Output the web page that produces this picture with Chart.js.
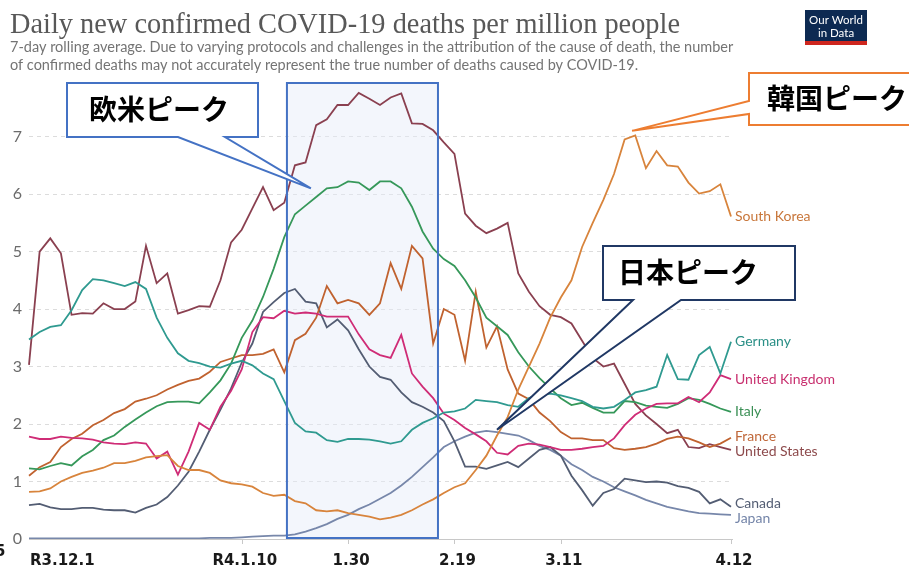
<!DOCTYPE html>
<html><head><meta charset="utf-8">
<script src="https://cdn.jsdelivr.net/npm/chart.js@4.4.1/dist/chart.umd.min.js"></script>
<style>html,body{margin:0;padding:0;background:#fff;overflow:hidden}canvas{display:block}</style>
</head><body>
<canvas id="c" width="909" height="570"></canvas>
<script>
// ---------------- DATA ----------------
const categories = [
 "2021-12-01","2021-12-03","2021-12-05","2021-12-07","2021-12-09","2021-12-11","2021-12-13","2021-12-15","2021-12-17","2021-12-19",
 "2021-12-21","2021-12-23","2021-12-25","2021-12-27","2021-12-29","2021-12-31","2022-01-02","2022-01-04","2022-01-06","2022-01-08",
 "2022-01-10","2022-01-12","2022-01-14","2022-01-16","2022-01-18","2022-01-20","2022-01-22","2022-01-24","2022-01-26","2022-01-28",
 "2022-01-30","2022-02-01","2022-02-03","2022-02-05","2022-02-07","2022-02-09","2022-02-11","2022-02-13","2022-02-15","2022-02-17",
 "2022-02-19","2022-02-21","2022-02-23","2022-02-25","2022-02-27","2022-03-01","2022-03-03","2022-03-05","2022-03-07","2022-03-09",
 "2022-03-11","2022-03-13","2022-03-15","2022-03-17","2022-03-19","2022-03-21","2022-03-23","2022-03-25","2022-03-27","2022-03-29",
 "2022-03-31","2022-04-02","2022-04-04","2022-04-06","2022-04-08","2022-04-10","2022-04-12"];

const southKorea = [0.82,0.83,0.88,1.0,1.08,1.15,1.19,1.24,1.32,1.32,
 1.36,1.42,1.44,1.46,1.27,1.2,1.2,1.15,1.02,0.97,
 0.95,0.91,0.8,0.75,0.77,0.66,0.62,0.5,0.48,0.5,
 0.45,0.42,0.39,0.34,0.37,0.42,0.5,0.6,0.69,0.8,
 0.9,0.97,1.2,1.45,1.8,2.12,2.6,3.0,3.4,3.85,
 4.2,4.5,5.08,5.5,5.9,6.35,6.95,7.02,6.45,6.75,
 6.5,6.48,6.2,6.01,6.05,6.17,5.61];
const germany = [3.47,3.6,3.69,3.72,3.98,4.33,4.52,4.5,4.45,4.4,
 4.47,4.35,3.85,3.5,3.23,3.1,3.06,3.0,2.98,3.05,
 3.1,3.02,2.88,2.78,2.4,2.02,1.87,1.85,1.72,1.69,
 1.74,1.74,1.73,1.7,1.66,1.7,1.9,2.02,2.1,2.2,
 2.22,2.27,2.42,2.4,2.38,2.33,2.3,2.45,2.52,2.53,
 2.5,2.45,2.4,2.3,2.27,2.3,2.42,2.55,2.59,2.65,
 3.2,2.78,2.77,3.2,3.34,2.88,3.43];
const unitedKingdom = [1.78,1.74,1.74,1.78,1.76,1.75,1.73,1.68,1.66,1.65,
 1.68,1.66,1.4,1.52,1.12,1.52,2.02,1.9,2.3,2.58,
 2.95,3.6,3.86,3.84,3.97,3.92,3.94,3.92,3.87,3.87,
 3.87,3.56,3.3,3.2,3.15,3.55,2.88,2.65,2.45,2.18,
 2.07,1.93,1.82,1.7,1.5,1.47,1.62,1.66,1.64,1.6,
 1.55,1.55,1.57,1.6,1.62,1.75,1.98,2.16,2.27,2.35,
 2.36,2.36,2.47,2.38,2.55,2.85,2.78];
const italy = [1.23,1.21,1.27,1.32,1.28,1.44,1.55,1.72,1.8,1.95,
 2.08,2.2,2.31,2.38,2.39,2.39,2.36,2.55,2.76,3.05,
 3.5,3.8,4.21,4.7,5.25,5.65,5.8,5.95,6.1,6.12,
 6.22,6.2,6.07,6.22,6.22,6.1,5.78,5.35,5.05,4.87,
 4.75,4.5,4.2,3.85,3.7,3.55,3.25,3.0,2.8,2.62,
 2.45,2.33,2.37,2.28,2.2,2.2,2.4,2.38,2.32,2.3,
 2.28,2.35,2.45,2.42,2.35,2.27,2.21];
const france = [1.1,1.25,1.34,1.6,1.74,1.83,1.98,2.07,2.19,2.26,
 2.39,2.44,2.5,2.6,2.68,2.75,2.79,2.91,3.08,3.14,
 3.2,3.2,3.22,3.3,2.9,3.46,3.57,3.85,4.4,4.1,
 4.16,4.1,3.9,4.1,4.8,4.35,5.1,4.88,3.4,4.0,
 3.9,3.1,4.3,3.33,3.7,2.95,2.53,2.43,2.2,2.05,
 1.86,1.75,1.75,1.72,1.72,1.58,1.55,1.57,1.6,1.66,
 1.74,1.78,1.75,1.68,1.6,1.66,1.76];
const unitedStates = [3.03,5.0,5.23,4.97,3.9,3.93,3.92,4.1,4.0,4.0,
 4.13,5.1,4.45,4.62,3.92,3.98,4.05,4.04,4.5,5.16,
 5.38,5.75,6.12,5.72,5.85,6.5,6.55,7.2,7.3,7.55,
 7.55,7.76,7.66,7.55,7.68,7.75,7.23,7.22,7.11,6.9,
 6.7,5.66,5.45,5.32,5.4,5.5,4.62,4.3,4.05,3.9,
 3.86,3.75,3.45,3.15,3.0,3.05,2.7,2.35,2.15,2.0,
 1.84,1.9,1.6,1.58,1.65,1.6,1.55];
const canada = [0.59,0.61,0.55,0.52,0.52,0.54,0.54,0.51,0.5,0.5,
 0.46,0.54,0.6,0.73,0.93,1.17,1.52,1.9,2.25,2.62,
 3.07,3.4,3.95,4.12,4.28,4.35,4.13,4.1,3.68,3.82,
 3.63,3.3,3.0,2.82,2.77,2.55,2.38,2.3,2.2,2.05,
 1.7,1.26,1.26,1.22,1.28,1.34,1.25,1.4,1.55,1.6,
 1.45,1.1,0.85,0.58,0.8,0.87,1.05,1.02,0.99,1.0,
 0.98,0.92,0.89,0.82,0.62,0.69,0.56];
const japan = [0.01,0.01,0.01,0.01,0.01,0.01,0.01,0.01,0.01,0.01,
 0.01,0.01,0.01,0.01,0.01,0.01,0.01,0.02,0.02,0.02,
 0.03,0.04,0.05,0.06,0.06,0.08,0.13,0.19,0.26,0.35,
 0.42,0.52,0.6,0.7,0.8,0.93,1.08,1.25,1.42,1.6,
 1.7,1.78,1.85,1.88,1.86,1.83,1.8,1.72,1.62,1.55,
 1.45,1.3,1.2,1.08,1.0,0.9,0.83,0.76,0.68,0.62,
 0.56,0.52,0.48,0.45,0.44,0.43,0.42];

const seriesNames = ["South Korea","Germany","United Kingdom","Italy","France","United States","Canada","Japan"];
const seriesValues = [southKorea, germany, unitedKingdom, italy, france, unitedStates, canada, japan];
const yTickValues = [0,1,2,3,4,5,6,7];
const axisTickDates = ["2022-01-10","2022-01-30","2022-02-19","2022-03-11","2022-04-12"];
const xTickLabels = ["R3.12.1","R4.1.10","1.30","2.19","3.11","4.12"];
const xTickLabelDates = ["2021-12-01","2022-01-10","2022-01-30","2022-02-19","2022-03-11","2022-04-12"];
const titleText = "Daily new confirmed COVID-19 deaths per million people";
const subtitleLines = ["7-day rolling average. Due to varying protocols and challenges in the attribution of the cause of death, the number",
 "of confirmed deaths may not accurately represent the true number of deaths caused by COVID-19."];
const calloutTexts = ["欧米ピーク","韓国ピーク","日本ピーク"];

// ---------------- STYLE ----------------
const lineColors = ["#d8843c","#2f9a90","#cf2c76","#36985a","#c0622f","#8a4050","#535d73","#7787aa"];
const labelColors = ["#c8763a","#2a8f86","#c8306f","#3a8f55","#c0683a","#8d4a4c","#535d73","#7384a8"];

const idx = d => categories.indexOf(d);

const overlay = {
  id: 'overlay',
  beforeDatasetsDraw(chart) {
    const {ctx, chartArea, scales:{x, y}} = chart;
    const x0 = x.getPixelForValue(24.25), x1 = x.getPixelForValue(38.45);
    ctx.save();
    ctx.fillStyle = 'rgba(228,236,248,0.45)';
    ctx.fillRect(x0, chartArea.top + 1, x1 - x0, y.getPixelForValue(0) - chartArea.top - 2);
    ctx.restore();
  },
  afterDatasetsDraw(chart) {
    const {ctx, chartArea, scales:{x, y}} = chart;
    const y0 = y.getPixelForValue(0);
    ctx.save();
    ctx.strokeStyle = '#c8c8c8'; ctx.lineWidth = 1;
    ctx.beginPath(); ctx.moveTo(chartArea.left, y0 + 0.5); ctx.lineTo(chartArea.right + 2, y0 + 0.5); ctx.stroke();
    axisTickDates.forEach(d => {
      const px = Math.round(x.getPixelForValue(idx(d))) + 0.5;
      ctx.beginPath(); ctx.moveTo(px, y0); ctx.lineTo(px, y0 + 6); ctx.stroke();
    });
    const x0 = x.getPixelForValue(24.25), x1 = x.getPixelForValue(38.45);
    ctx.strokeStyle = '#4472c4'; ctx.lineWidth = 2;
    ctx.strokeRect(x0, chartArea.top + 1, x1 - x0, y0 - chartArea.top - 2);
    ctx.restore();
  },
  afterDraw(chart) {
    const {ctx, chartArea, scales:{x, y}} = chart;
    ctx.save();
    ctx.textBaseline = 'alphabetic'; ctx.textAlign = 'left';
    ctx.fillStyle = '#585858';
    ctx.font = '29px "Liberation Serif"';
    ctx.fillText(titleText, 10, 33, 670);
    ctx.fillStyle = '#747474';
    ctx.font = '14.5px Lato';
    ctx.fillText(subtitleLines[0], 10, 52, 758);
    ctx.fillText(subtitleLines[1], 10, 70, 657);
    ctx.fillStyle = '#0d2a52'; ctx.fillRect(805, 10, 62, 34);
    ctx.fillStyle = '#ce261e'; ctx.fillRect(805, 41, 62, 4);
    ctx.fillStyle = '#ffffff'; ctx.textAlign = 'center'; ctx.textBaseline = 'middle';
    ctx.font = '11.5px Lato';
    ctx.fillText('Our World', 836, 20);
    ctx.fillText('in Data', 836, 33);

    const labs = seriesNames.map((n, i) => ({n, i, y: y.getPixelForValue(seriesValues[i][seriesValues[i].length - 1])}));
    for (let it = 0; it < 40; it++) {
      labs.sort((a, b) => a.y - b.y);
      for (let j = 1; j < labs.length; j++) {
        const gap = labs[j].y - labs[j-1].y;
        if (gap < 15.5) { const m = (15.5 - gap) / 2; labs[j].y += m; labs[j-1].y -= m; }
      }
    }
    ctx.textAlign = 'left'; ctx.textBaseline = 'middle'; ctx.font = '14px Lato';
    labs.forEach(l => { ctx.fillStyle = labelColors[l.i]; ctx.fillText(l.n, chartArea.right + 4, l.y); });

    ctx.fillStyle = '#ffffff'; ctx.fillRect(0, 544, 909, 26);
    ctx.fillStyle = '#1a1a1a'; ctx.font = 'bold 15px "DejaVu Sans"'; ctx.textBaseline = 'middle';
    xTickLabels.forEach((t, k) => {
      const px = x.getPixelForValue(idx(xTickLabelDates[k]));
      if (k === 0) { ctx.textAlign = 'left'; ctx.fillText(t, px + 1, 561); }
      else { ctx.textAlign = 'center'; ctx.fillText(t, px + 3, 561); }
    });
    ctx.textAlign = 'left';
    ctx.fillText('5', -5, 552);

    const jp = 'bold 28px "Noto Sans CJK JP"';
    function bottomCallout(L, T, R, B, bx1, bx2, tip, color, text, tx) {
      ctx.beginPath();
      ctx.moveTo(L, T); ctx.lineTo(R, T); ctx.lineTo(R, B); ctx.lineTo(bx2, B);
      ctx.lineTo(tip[0], tip[1]); ctx.lineTo(bx1, B); ctx.lineTo(L, B); ctx.closePath();
      ctx.fillStyle = '#fff'; ctx.fill();
      ctx.strokeStyle = color; ctx.lineWidth = 2; ctx.lineJoin = 'miter'; ctx.stroke();
      ctx.fillStyle = '#000'; ctx.font = jp; ctx.textAlign = 'left'; ctx.textBaseline = 'middle';
      ctx.fillText(text, tx, (T + B) / 2 - 1);
    }
    function leftCallout(L, T, R, B, by1, by2, tip, color, text, tx) {
      ctx.beginPath();
      ctx.moveTo(L, T); ctx.lineTo(R, T); ctx.lineTo(R, B); ctx.lineTo(L, B);
      ctx.lineTo(L, by2); ctx.lineTo(tip[0], tip[1]); ctx.lineTo(L, by1); ctx.closePath();
      ctx.fillStyle = '#fff'; ctx.fill();
      ctx.strokeStyle = color; ctx.lineWidth = 2; ctx.stroke();
      ctx.fillStyle = '#000'; ctx.font = jp; ctx.textAlign = 'left'; ctx.textBaseline = 'middle';
      ctx.fillText(text, tx, (T + B) / 2 - 1);
    }
    const tipEU = [x.getPixelForValue(26.5), y.getPixelForValue(6.1)];
    const tipKR = [x.getPixelForValue(56.7), y.getPixelForValue(7.1)];
    const tipJP = [x.getPixelForValue(44), y.getPixelForValue(1.9)];
    bottomCallout(67, 83, 258, 137, 178, 225, tipEU, '#4472c4', calloutTexts[0], 89);
    leftCallout(749, 73, 912, 125, 101, 114, tipKR, '#ed7d31', calloutTexts[1], 767);
    bottomCallout(603, 246, 795, 300, 633, 681, tipJP, '#203864', calloutTexts[2], 618);
    ctx.restore();
  }
};

new Chart(document.getElementById('c'), {
  type: 'line',
  data: {
    labels: categories,
    datasets: seriesNames.map((n, i) => ({
      label: n, data: seriesValues[i], borderColor: lineColors[i], borderWidth: 1.8,
      pointRadius: 0, tension: 0, fill: false
    }))
  },
  options: {
    responsive: false, devicePixelRatio: 1, animation: false, events: [],
    layout: { padding: { top: 82, right: 178, bottom: 31, left: 0 } },
    plugins: { legend: { display: false }, tooltip: { enabled: false }, title: { display: false } },
    scales: {
      x: { display: false },
      y: {
        min: 0, max: 7.95,
        afterFit(s) { s.width = 29; },
        afterBuildTicks(s) { s.ticks = yTickValues.map(v => ({ value: v })); },
        ticks: { stepSize: 1, includeBounds: false, padding: 7, color: '#6b6b6b', font: { family: 'Lato', size: 16 } },
        grid: { drawTicks: false, color: c => c.tick && c.tick.value === 0 ? 'rgba(0,0,0,0)' : '#dcdcdc', lineWidth: 1 },
        border: { display: false, dash: [4, 4] }
      }
    }
  },
  plugins: [overlay]
});
</script>
</body></html>
